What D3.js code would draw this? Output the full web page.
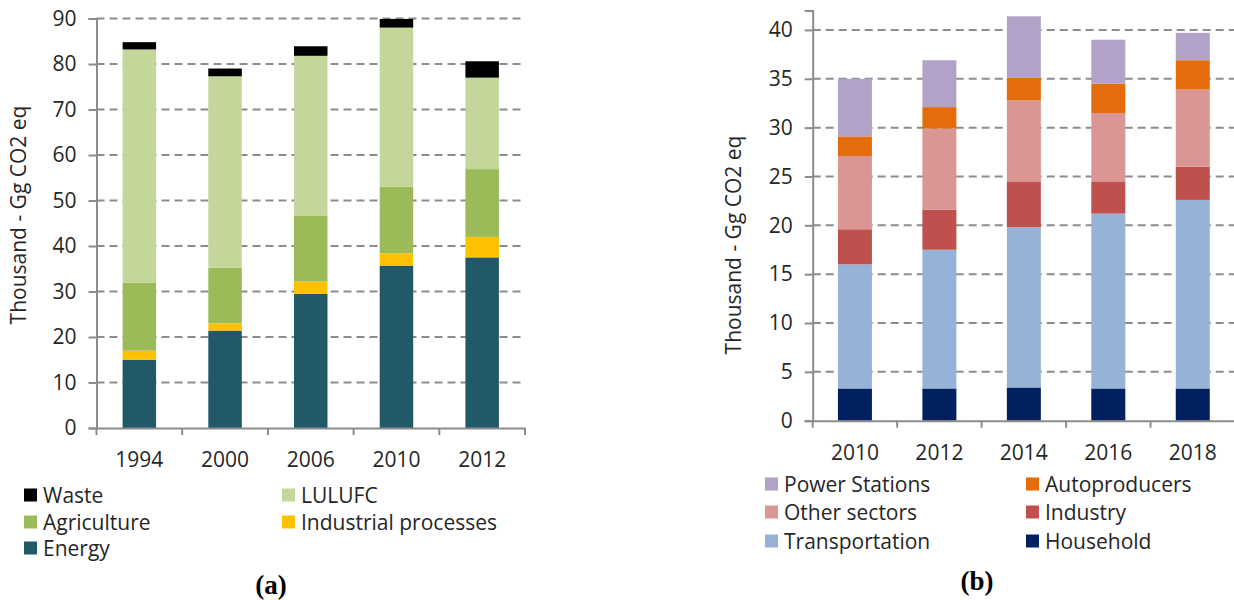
<!DOCTYPE html>
<html>
<head>
<meta charset="utf-8">
<script src="https://cdn.jsdelivr.net/npm/d3@7"></script>
<style>
  html, body { margin: 0; padding: 0; background: #fff; }
  svg { display: block; }
  text { font-family: "Open Sans", Lato, sans-serif; fill: #262626; }
  .caption { font-family: "Liberation Serif", "DejaVu Serif", serif; font-weight: bold; fill: #000; }
</style>
</head>
<body>
<svg id="chart" width="1234" height="600"></svg>
<script>
// (a) emissions by sector, thousand Gg CO2 eq
const yearsA = ["1994", "2000", "2006", "2010", "2012"];
const energyA = [15.0, 21.4, 29.5, 35.7, 37.5];
const industrialA = [2.0, 1.6, 2.7, 2.7, 4.5];
const agricultureA = [14.9, 12.2, 14.5, 14.6, 14.9];
const lulufcA = [51.3, 42.1, 35.1, 35.0, 20.1];
const wasteA = [1.6, 1.7, 2.1, 1.9, 3.6];
const ticksA = [0, 10, 20, 30, 40, 50, 60, 70, 80, 90];

// (b) energy emissions by sub-sector, thousand Gg CO2 eq
const yearsB = ["2010", "2012", "2014", "2016", "2018"];
const householdB = [3.3, 3.3, 3.4, 3.3, 3.3];
const transportB = [12.7, 14.2, 16.4, 17.9, 19.3];
const industryB = [3.6, 4.1, 4.7, 3.3, 3.4];
const otherB = [7.5, 8.3, 8.3, 7.0, 7.9];
const autoprodB = [2.0, 2.2, 2.3, 3.0, 3.0];
const powerB = [5.9, 4.8, 6.3, 4.5, 2.8];
const ticksB = [0, 5, 10, 15, 20, 25, 30, 35, 40];

const seriesA = [
  { name: "Energy", values: energyA, color: "#215968" },
  { name: "Industrial processes", values: industrialA, color: "#FFC000" },
  { name: "Agriculture", values: agricultureA, color: "#9BBB59" },
  { name: "LULUFC", values: lulufcA, color: "#C4D79B" },
  { name: "Waste", values: wasteA, color: "#000000" }
];
const seriesB = [
  { name: "Household", values: householdB, color: "#002060" },
  { name: "Transportation", values: transportB, color: "#95B3D7" },
  { name: "Industry", values: industryB, color: "#C0504D" },
  { name: "Other sectors", values: otherB, color: "#D99694" },
  { name: "Autoproducers", values: autoprodB, color: "#E46C0A" },
  { name: "Power Stations", values: powerB, color: "#B2A2C7" }
];

const FONT = 21;
const svg = d3.select("#chart");

function drawPanel(cfg) {
  const g = svg.append("g");
  const band = d3.scaleBand().domain(cfg.years).range([cfg.x0, cfg.x1]);
  const y = d3.scaleLinear().domain(cfg.domain).range([cfg.y0, cfg.y1]);

  // dashed horizontal gridlines
  g.selectAll("line.grid").data(cfg.ticks.filter(t => t > 0)).join("line")
    .attr("x1", cfg.x0).attr("x2", cfg.gridEnd)
    .attr("y1", d => y(d)).attr("y2", d => y(d))
    .attr("stroke", "#8c8c8c").attr("stroke-width", 2).attr("stroke-dasharray", "8,5");

  // stacked bars
  const rows = cfg.years.map((yr, i) => {
    const r = { year: yr };
    cfg.series.forEach(s => { r[s.name] = s.values[i]; });
    return r;
  });
  const stack = d3.stack().keys(cfg.series.map(s => s.name))(rows);
  stack.forEach((layer, li) => {
    g.selectAll(null).data(layer).join("rect")
      .attr("x", d => band(d.data.year) + (band.bandwidth() - cfg.barW) / 2)
      .attr("width", cfg.barW)
      .attr("y", d => y(d[1]))
      .attr("height", d => y(d[0]) - y(d[1]))
      .attr("fill", cfg.series[li].color);
  });

  // y axis
  const yAxis = d3.axisLeft(y).tickValues(cfg.ticks).tickSize(8).tickPadding(12);
  const ya = g.append("g").attr("transform", `translate(${cfg.x0},0)`).call(yAxis);
  ya.select(".domain").attr("stroke", "#8c8c8c").attr("stroke-width", 2);
  ya.selectAll(".tick line").attr("stroke", "#8c8c8c").attr("stroke-width", 2);
  ya.selectAll(".tick text").attr("font-size", FONT).attr("font-family", "'Open Sans', sans-serif").attr("fill", "#262626");

  // x axis
  const xAxis = d3.axisBottom(band).tickSize(0).tickPadding(24);
  const xa = g.append("g").attr("transform", `translate(0,${cfg.y0})`).call(xAxis);
  xa.select(".domain").attr("stroke", "#8c8c8c").attr("stroke-width", 2);
  xa.selectAll(".tick text").attr("font-size", FONT).attr("font-family", "'Open Sans', sans-serif").attr("fill", "#262626");
  // boundary tick marks between categories
  const edges = cfg.years.map(d => band(d)).concat([cfg.x1]);
  g.selectAll(null).data(edges).join("line")
    .attr("x1", d => d).attr("x2", d => d)
    .attr("y1", cfg.y0).attr("y2", cfg.y0 + 7)
    .attr("stroke", "#8c8c8c").attr("stroke-width", 2);

  // axis title
  g.append("text")
    .attr("transform", `translate(${cfg.titleX},${cfg.titleY}) rotate(-90)`)
    .attr("text-anchor", "middle").attr("dominant-baseline", "central")
    .attr("font-size", FONT).text("Thousand - Gg CO2 eq");

  // legend
  const lg = g.selectAll(null).data(cfg.legend).join("g")
    .attr("transform", d => `translate(${d.x},${d.y})`);
  lg.append("rect").attr("x", 0).attr("y", -6.5).attr("width", 13).attr("height", 13)
    .attr("fill", d => cfg.series.find(s => s.name === d.name).color);
  lg.append("text").attr("x", 19).attr("dominant-baseline", "central")
    .attr("font-size", FONT).text(d => d.name);

  // panel caption
  g.append("text").attr("class", "caption")
    .attr("x", cfg.capX).attr("y", cfg.capY).attr("text-anchor", "middle")
    .attr("font-size", 27).text(cfg.caption);
}

drawPanel({
  years: yearsA, series: seriesA, domain: [0, 90], ticks: ticksA,
  x0: 96.5, x1: 525, y0: 428, y1: 18.5, gridEnd: 525, barW: 33.5,
  titleX: 18, titleY: 215,
  legend: [
    { name: "Waste", x: 24, y: 495 },
    { name: "LULUFC", x: 282, y: 495 },
    { name: "Agriculture", x: 24, y: 522 },
    { name: "Industrial processes", x: 282, y: 522 },
    { name: "Energy", x: 24, y: 548 }
  ],
  caption: "(a)", capX: 271, capY: 594
});

drawPanel({
  years: yearsB, series: seriesB, domain: [0, 42], ticks: ticksB,
  x0: 812.7, x1: 1235, y0: 420.7, y1: 10.4, gridEnd: 1234, barW: 34,
  titleX: 733, titleY: 245,
  legend: [
    { name: "Power Stations", x: 765, y: 484 },
    { name: "Autoproducers", x: 1026, y: 484 },
    { name: "Other sectors", x: 765, y: 512 },
    { name: "Industry", x: 1026, y: 512 },
    { name: "Transportation", x: 765, y: 541 },
    { name: "Household", x: 1026, y: 541 }
  ],
  caption: "(b)", capX: 977, capY: 590
});
</script>
</body>
</html>
